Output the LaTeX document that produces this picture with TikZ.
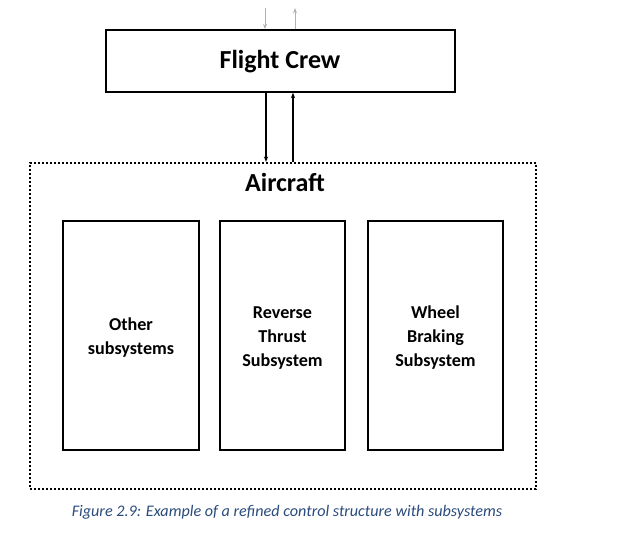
\documentclass[tikz,border=0pt]{standalone}
\usepackage{fontspec}
\setmainfont{Carlito}
\usetikzlibrary{arrows.meta,fit}
\definecolor{capblue}{HTML}{2A4B7C}
\begin{document}
\begin{tikzpicture}[x=0.75pt,y=-0.75pt,
  box/.style={draw,line width=1.3pt,inner sep=0pt},
  sub/.style={box,line width=1.1pt},
  sublabel/.style={align=center,yshift=-1.8pt,font=\bfseries\fontsize{13.6}{18}\selectfont},
  big/.style={font=\bfseries\fontsize{19.5}{22}\selectfont},
  arr/.style={line width=0.8pt,-{Stealth[length=4pt,width=3.2pt]}},
  garr/.style={line width=0.6pt,gray!60,-{Stealth[length=4pt,width=3pt]}},
  dotbox/.style={draw,line width=1.8pt,dash pattern=on 1.5pt off 1.5pt,inner sep=0pt}]
\useasboundingbox (0,0) rectangle (629,534);
\node[box,fit={(106,30) (455,92)}] (fc) {};
\node[big] (fct) at (280,62) {Flight Crew};
\node[dotbox,fit={(30,163) (536,489)}] (ac) {};
\node[big] (act) at (285,182) {Aircraft};
\node[sub,fit={(63,221) (199,450)}] (os) {};
\node[sublabel] (ost) at (os.center) {Other\\subsystems};
\node[sub,fit={(220,221) (345,450)}] (rt) {};
\node[sublabel] (rtt) at (rt.center) {Reverse\\Thrust\\Subsystem};
\node[sub,fit={(368,221) (503,450)}] (wb) {};
\node[sublabel] (wbt) at (wb.center) {Wheel\\Braking\\Subsystem};
\coordinate (t1) at (265,8);
\coordinate (t2) at (295,8);
\draw[garr] (t1) -- (t1 |- fc.north);
\draw[garr] (t2 |- fc.north) -- (t2);
\draw[arr] (fc.south -| 266,0) -- (ac.north -| 266,0);
\draw[arr] (ac.north -| 293,0) -- (fc.south -| 293,0);
\node (cap) at (287,512) {\color{capblue}\itshape\fontsize{12.1}{14}\selectfont Figure 2.9: Example of a refined control structure with subsystems};
\end{tikzpicture}
\end{document}
